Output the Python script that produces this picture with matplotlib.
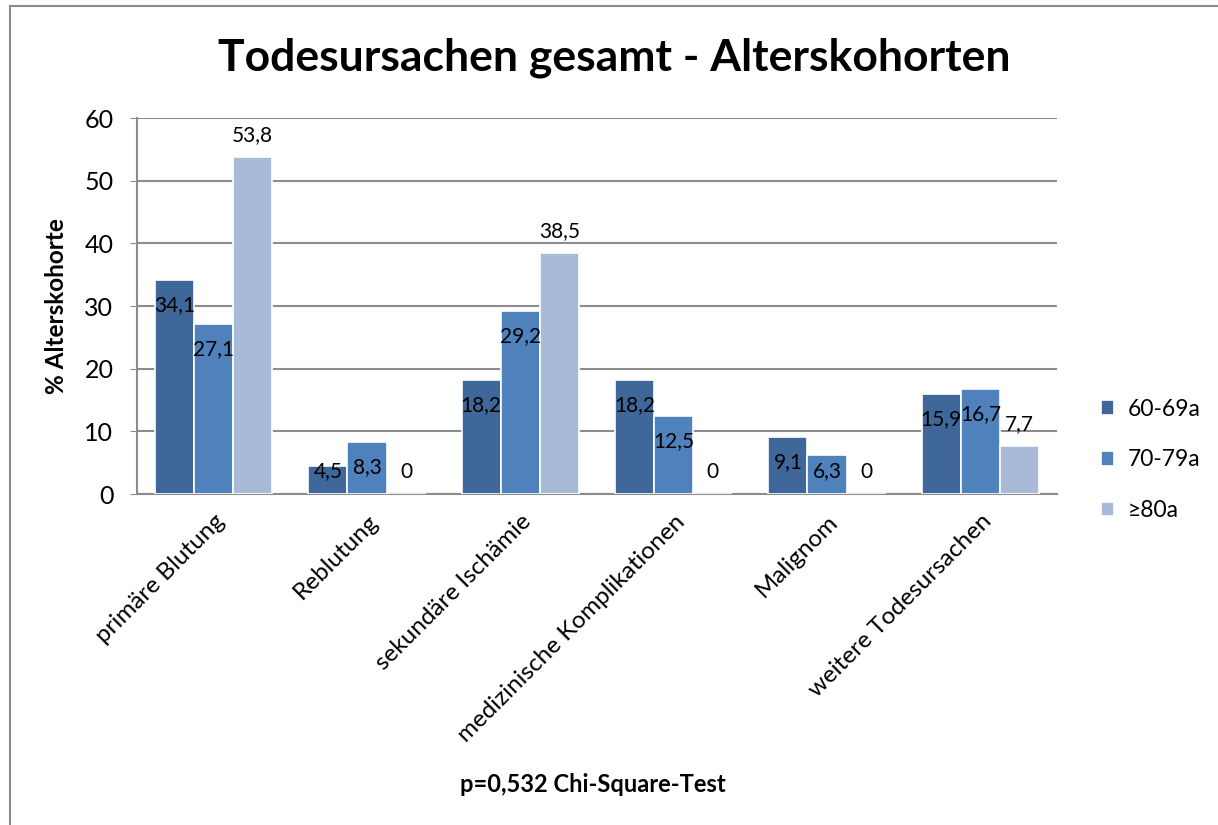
import numpy as np
import matplotlib
matplotlib.use("Agg")
import matplotlib.pyplot as plt
from matplotlib.patches import Rectangle

plt.rcParams["font.family"] = ["Lato", "DejaVu Sans"]

# ── Data ──────────────────────────────────────────────────────────────────────
categories = ["primäre Blutung", "Reblutung", "sekundäre Ischämie",
              "medizinische Komplikationen", "Malignom", "weitere Todesursachen"]
series_names = ["60-69a", "70-79a", "≥80a"]
vals_60 = [34.1, 4.5, 18.2, 18.2, 9.1, 15.9]
vals_70 = [27.1, 8.3, 29.2, 12.5, 6.3, 16.7]
vals_80 = [53.8, 0.0, 38.5, 0.0, 0.0, 7.7]
colors = ["#3F6799", "#4F81BD", "#A9B9D8"]

# ── Figure ────────────────────────────────────────────────────────────────────
fig = plt.figure(figsize=(12.18, 8.25), dpi=100)
ax = fig.add_axes([137 / 1218, 1 - 494 / 825, 920 / 1218, 376 / 825])

# outer chart border (right/bottom edges fall outside the image)
fig.patches.append(Rectangle((10 / 1218, -0.1), 1.2, 1 - 6 / 825 + 0.1,
                             transform=fig.transFigure, fill=False,
                             ec="#8c8c8c", lw=1.5))

x = np.arange(len(categories))
width = 0.255

for i, (vals, name, col) in enumerate(zip([vals_60, vals_70, vals_80],
                                          series_names, colors)):
    pos = x + (i - 1) * width
    ax.bar(pos, vals, width, color=col, edgecolor="white", lw=1.2,
           label=name, zorder=3)
    for px, v in zip(pos, vals):
        lbl = f"{v:.1f}".replace(".", ",") if v != 0 else "0"
        # first two series: inside end, last series: outside end
        y = max(v - 4.0, 3.6) if i < 2 else v + 3.5
        ax.text(px, y, lbl, ha="center", va="center", fontsize=15, zorder=5)

ax.set_xlim(-0.5, len(categories) - 0.5)
ax.set_ylim(0, 60)
ax.set_yticks(range(0, 61, 10))
ax.tick_params(axis="y", labelsize=18, direction="out", length=5,
               color="#8c8c8c", pad=12)
ax.set_xticks(x)
ax.set_xticklabels(categories, rotation=45, ha="right", va="top",
                   rotation_mode="anchor", fontsize=17.5)
ax.tick_params(axis="x", length=0, pad=12)
ax.yaxis.grid(True, color="#8c8c8c", lw=1.5, zorder=0)
ax.set_axisbelow(True)
for s in ["top", "right"]:
    ax.spines[s].set_visible(False)
for s in ["left", "bottom"]:
    ax.spines[s].set_color("#8c8c8c")
    ax.spines[s].set_linewidth(1.5)

ax.set_ylabel("% Alterskohorte", fontsize=17.5, fontweight="bold", labelpad=12)
fig.text(593 / 1218, 1 - 785 / 825, "p=0,532 Chi-Square-Test",
         ha="center", va="center", fontsize=17, fontweight="bold")
fig.text(614 / 1218, 1 - 58 / 825, "Todesursachen gesamt - Alterskohorten",
         ha="center", va="center", fontsize=32, fontweight="bold")

ax.legend(loc="center left", bbox_to_anchor=(1080 / 1218, 1 - 460 / 825),
          bbox_transform=fig.transFigure, frameon=False, fontsize=16.5,
          handlelength=0.6, handleheight=0.6, handletextpad=0.6,
          labelspacing=1.3)

plt.savefig("out.png", dpi=100)
plt.close()
